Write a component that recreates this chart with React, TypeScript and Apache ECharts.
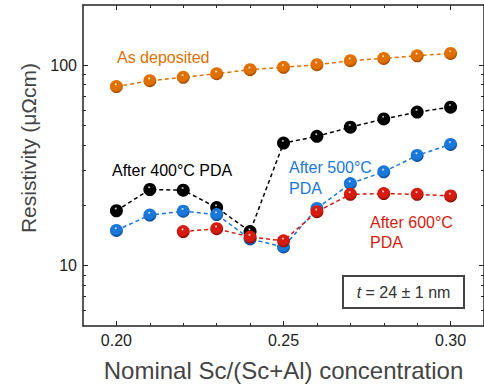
import React, { useEffect, useRef } from "react";
import * as echarts from "echarts";

const xValues = [0.2, 0.21, 0.22, 0.23, 0.24, 0.25, 0.26, 0.27, 0.28, 0.29, 0.3];
const asDeposited = [78.3, 83.8, 87.1, 90.8, 95.1, 97.7, 100.7, 105.4, 108.3, 111.6, 114.7];
const after400 = [18.8, 24.0, 23.8, 19.5, 14.8, 40.9, 44.2, 49.1, 54.0, 58.4, 61.8];
const after500 = [15.0, 17.9, 18.7, 18.0, 13.6, 12.4, 19.3, 25.7, 29.4, 35.5, 40.3];
const x600 = [0.22, 0.23, 0.24, 0.25, 0.26, 0.27, 0.28, 0.29, 0.3];
const after600 = [14.8, 15.3, 13.9, 13.3, 18.6, 22.7, 22.9, 22.7, 22.3];

const xMajorTicks = [0.2, 0.25, 0.3];
const xMinorTicks = [0.21, 0.22, 0.23, 0.24, 0.26, 0.27, 0.28, 0.29];
const yMajorTicks = [10, 100];
const yMinorTicks = [6, 7, 8, 9, 20, 30, 40, 50, 60, 70, 80, 90];

const ORANGE = "#e07000";
const BLACK = "#000000";
const BLUE = "#1a78d8";
const RED = "#d41c10";
const AXIS = "#222222";
const FONT = "Liberation Sans, Arial, sans-serif";

function ball(color: string, dark: string) {
  return new echarts.graphic.RadialGradient(0.45, 0.33, 0.65, [
    { offset: 0, color: "#ffffff" },
    { offset: 0.18, color: color },
    { offset: 0.7, color: color },
    { offset: 1, color: dark },
  ]);
}

function makeSeries(name: string, xs: number[], ys: number[], color: string, dark: string) {
  return {
    name,
    type: "line",
    xAxisIndex: 0,
    yAxisIndex: 0,
    data: xs.map((x, i) => [x, ys[i]]),
    symbol: "circle",
    symbolSize: 13,
    itemStyle: { color: ball(color, dark), borderWidth: 0 },
    lineStyle: { color, width: 1.5, type: [4, 3] },
    z: 3,
  };
}

function xAxis(position: string, ticks: number[], len: number, labels: boolean, line: boolean) {
  return {
    type: "value",
    position,
    min: 0.19,
    max: 0.31,
    axisLine: { show: line, onZero: false, lineStyle: { color: AXIS, width: 1.5 } },
    axisTick: { show: true, inside: true, length: len, customValues: ticks, lineStyle: { color: AXIS, width: 1 } },
    axisLabel: labels
      ? {
          show: true,
          customValues: xMajorTicks,
          formatter: (v: number) => v.toFixed(2),
          fontSize: 16,
          color: "#222",
          fontFamily: FONT,
          margin: 6,
        }
      : { show: false },
    splitLine: { show: false },
  };
}

function yAxis(position: string, ticks: number[], len: number, labels: boolean, line: boolean) {
  return {
    type: "log",
    logBase: 10,
    position,
    min: 5,
    max: 200,
    axisLine: { show: line, onZero: false, lineStyle: { color: AXIS, width: 1.5 } },
    axisTick: { show: true, inside: true, length: len, customValues: ticks, lineStyle: { color: AXIS, width: 1 } },
    axisLabel: labels
      ? {
          show: true,
          customValues: yMajorTicks,
          fontSize: 16,
          color: "#222",
          fontFamily: FONT,
          margin: 6,
        }
      : { show: false },
    splitLine: { show: false },
    minorTick: { show: false },
  };
}

export default function App() {
  const ref = useRef<HTMLDivElement>(null);
  useEffect(() => {
    if (!ref.current) return;
    const chart = echarts.init(ref.current, undefined, { renderer: "svg" });
    const xa: any[] = [
      {
        ...xAxis("bottom", xMajorTicks, 5, true, true),
        name: "Nominal Sc/(Sc+Al) concentration",
        nameLocation: "middle",
        nameGap: 32,
        nameTextStyle: { fontSize: 24, color: "#444", fontFamily: FONT },
      },
      xAxis("bottom", xMinorTicks, 3, false, false),
      xAxis("top", xMajorTicks, 5, false, true),
      xAxis("top", xMinorTicks, 3, false, false),
    ];
    const ya: any[] = [
      yAxis("left", yMajorTicks, 5, true, true),
      yAxis("left", yMinorTicks, 3, false, false),
      yAxis("right", yMajorTicks, 5, false, true),
      yAxis("right", yMinorTicks, 3, false, false),
    ];
    chart.setOption({
      animation: false,
      backgroundColor: "#ffffff",
      grid: { left: 83, right: 0, top: 5, bottom: 59, containLabel: false },
      xAxis: xa,
      yAxis: ya,
      series: [
        makeSeries("As deposited", xValues, asDeposited, ORANGE, "#a04800"),
        makeSeries("After 400°C PDA", xValues, after400, BLACK, "#000000"),
        makeSeries("After 500°C PDA", xValues, after500, BLUE, "#0a4c98"),
        makeSeries("After 600°C PDA", x600, after600, RED, "#8c0c04"),
      ],
      graphic: [
        {
          type: "text",
          x: 28,
          y: 148,
          rotation: Math.PI / 2,
          style: {
            text: "Resistivity (μΩcm)",
            fill: "#444",
            font: `21px ${FONT}`,
            align: "center",
            verticalAlign: "middle",
          },
        },
        {
          type: "text",
          left: 117,
          top: 49,
          style: { text: "As deposited", fill: ORANGE, font: `16px ${FONT}` },
        },
        {
          type: "text",
          left: 112,
          top: 162,
          style: { text: "After 400°C PDA", fill: BLACK, font: `16px ${FONT}` },
        },
        {
          type: "text",
          left: 289,
          top: 157,
          style: { text: "After 500°C\nPDA", fill: BLUE, font: `16px ${FONT}`, lineHeight: 21 },
        },
        {
          type: "text",
          left: 370,
          top: 212,
          style: { text: "After 600°C\nPDA", fill: RED, font: `16px ${FONT}`, lineHeight: 20 },
        },
        {
          type: "rect",
          shape: { x: 343, y: 276, width: 121, height: 32 },
          style: { fill: "#fff", stroke: "#444", lineWidth: 2 },
          z: 10,
        },
        {
          type: "text",
          x: 403.5,
          y: 292,
          z: 11,
          style: {
            text: "{i|t} = 24 ± 1 nm",
            align: "center",
            verticalAlign: "middle",
            fill: "#333",
            font: `16px ${FONT}`,
            rich: { i: { fontStyle: "italic", fontSize: 16, fontFamily: FONT, fill: "#333" } },
          },
        },
      ],
    });
    return () => chart.dispose();
  }, []);
  return (
    <div
      ref={ref}
      style={{ position: "fixed", left: 0, top: 0, width: 484, height: 387, background: "#fff" }}
    />
  );
}
